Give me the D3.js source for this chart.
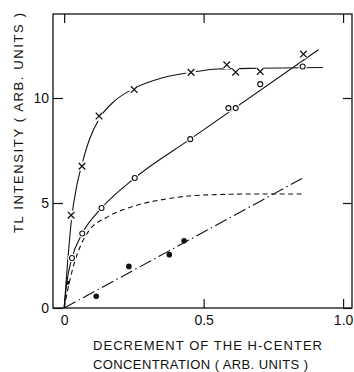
<!DOCTYPE html>
<html>
<head>
<meta charset="utf-8">
<script src="https://cdn.jsdelivr.net/npm/d3@7"></script>
<style>
  html, body { margin: 0; padding: 0; background: #fff; }
  svg { display: block; }
  text { font-family: "Liberation Sans", Arial, sans-serif; fill: #111; }
</style>
</head>
<body>
<svg id="chart" width="354" height="372"></svg>
<script>
// Measured points (decrement of H-center concentration vs. TL intensity)
const crossX = [0.025, 0.064, 0.125, 0.251, 0.455, 0.583, 0.615, 0.703, 0.858];
const crossY = [4.42, 6.75, 9.14, 10.40, 11.22, 11.58, 11.23, 11.26, 12.09];

const circleX = [0.028, 0.065, 0.134, 0.253, 0.452, 0.589, 0.615, 0.703, 0.855];
const circleY = [2.38, 3.55, 4.76, 6.19, 8.04, 9.52, 9.52, 10.66, 11.50];

const dotX = [0.013, 0.115, 0.232, 0.377, 0.430];
const dotY = [1.20, 0.56, 1.98, 2.54, 3.20];

// Drawn guide curves
const crossCurveX = [0, 0.012, 0.027, 0.045, 0.064, 0.09, 0.125, 0.18, 0.25, 0.35, 0.455, 0.55, 0.70, 0.928];
const crossCurveY = [0, 2.1, 4.3, 5.8, 6.85, 8.0, 9.0, 9.85, 10.45, 10.95, 11.22, 11.38, 11.42, 11.45];

const circleCurveX = [0, 0.010, 0.028, 0.065, 0.134, 0.253, 0.452, 0.912];
const circleCurveY = [0, 1.25, 2.38, 3.55, 4.76, 6.19, 8.04, 12.30];

const dashedCurveX = [0, 0.02, 0.04, 0.06, 0.09, 0.15, 0.25, 0.37, 0.50, 0.70, 0.858];
const dashedCurveY = [0, 1.3, 2.3, 3.0, 3.7, 4.3, 4.85, 5.2, 5.38, 5.43, 5.43];

const dashDotX = [0, 0.853];
const dashDotY = [0, 6.17];

const xTicks = [0, 0.5, 1.0];
const xTickLabels = ["0", "0.5", "1.0"];
const yTicks = [0, 5, 10];
const yTickLabels = ["0", "5", "10"];

const xTitle1 = "DECREMENT  OF  THE H-CENTER";
const xTitle2 = "CONCENTRATION  ( ARB. UNITS )";
const yTitle = "TL  INTENSITY  ( ARB. UNITS )";

const zip = (xs, ys) => xs.map((v, i) => [v, ys[i]]);

const svg = d3.select("#chart");
const x = d3.scaleLinear().domain([-0.04, 1.032]).range([53, 352]);
const y = d3.scaleLinear().domain([0, 14]).range([308, 14]);
const [xL, xR] = x.range();
const [yB, yT] = y.range();

// Axes: ticks point inward on all four sides
const fmtX = d => xTickLabels[xTicks.indexOf(d)];
const fmtY = d => yTickLabels[yTicks.indexOf(d)];

function styleAxis(g) {
  g.select(".domain").remove();
  g.selectAll(".tick line").attr("stroke", "#111").attr("stroke-width", 1.2);
  g.selectAll("text").style("font-size", "14px").attr("fill", "#111");
}

svg.append("g").attr("transform", `translate(0,${yB})`)
  .call(d3.axisBottom(x).tickValues(xTicks).tickFormat(fmtX).tickSizeInner(-9).tickSizeOuter(0).tickPadding(7))
  .call(styleAxis);
svg.append("g").attr("transform", `translate(0,${yT})`)
  .call(d3.axisTop(x).tickValues(xTicks).tickFormat("").tickSizeInner(-9).tickSizeOuter(0))
  .call(styleAxis);
svg.append("g").attr("transform", `translate(${xL},0)`)
  .call(d3.axisLeft(y).tickValues(yTicks).tickFormat(fmtY).tickSizeInner(-10).tickSizeOuter(0).tickPadding(4))
  .call(styleAxis);
svg.append("g").attr("transform", `translate(${xR},0)`)
  .call(d3.axisRight(y).tickValues(yTicks).tickFormat("").tickSizeInner(-9).tickSizeOuter(0))
  .call(styleAxis);

// Frame
svg.append("rect")
  .attr("x", xL).attr("y", yT).attr("width", xR - xL).attr("height", yB - yT)
  .attr("fill", "none").attr("stroke", "#111").attr("stroke-width", 1.3);

// Curves
const line = d3.line().x(d => x(d[0])).y(d => y(d[1])).curve(d3.curveMonotoneX);
const straight = d3.line().x(d => x(d[0])).y(d => y(d[1]));

const curves = svg.append("g").attr("fill", "none").attr("stroke", "#111");
curves.append("path").attr("d", line(zip(crossCurveX, crossCurveY))).attr("stroke-width", 1.1);
curves.append("path").attr("d", line(zip(circleCurveX, circleCurveY))).attr("stroke-width", 1.1);
curves.append("path").attr("d", line(zip(dashedCurveX, dashedCurveY)))
  .attr("stroke-width", 1.1).attr("stroke-dasharray", "5,3.5");
curves.append("path").attr("d", straight(zip(dashDotX, dashDotY)))
  .attr("stroke-width", 1.1).attr("stroke-dasharray", "13,3.5,1.5,3.5");

// White halos leave small gaps in the lines around the markers
const halos = svg.append("g").attr("fill", "#fff");
halos.selectAll(".hx").data(zip(crossX, crossY)).join("circle")
  .attr("cx", d => x(d[0])).attr("cy", d => y(d[1])).attr("r", 5);
halos.selectAll(".ho").data(zip(circleX, circleY)).join("circle")
  .attr("cx", d => x(d[0])).attr("cy", d => y(d[1])).attr("r", 4.2);

// Crosses
const cs = 3.3;
svg.append("g").attr("stroke", "#111").attr("stroke-width", 1.3)
  .selectAll("path").data(zip(crossX, crossY)).join("path")
  .attr("d", d => {
    const cx = x(d[0]), cy = y(d[1]);
    return `M${cx - cs},${cy - cs}L${cx + cs},${cy + cs}M${cx - cs},${cy + cs}L${cx + cs},${cy - cs}`;
  });

// Open circles
svg.append("g").attr("fill", "#fff").attr("stroke", "#111").attr("stroke-width", 1.1)
  .selectAll("circle").data(zip(circleX, circleY)).join("circle")
  .attr("cx", d => x(d[0])).attr("cy", d => y(d[1])).attr("r", 2.5);

// Filled dots
svg.append("g").attr("fill", "#111")
  .selectAll("circle").data(zip(dotX, dotY)).join("circle")
  .attr("cx", d => x(d[0])).attr("cy", d => y(d[1])).attr("r", (d, i) => i === 0 ? 2.1 : 2.8);

// Axis titles
svg.append("text").attr("x", 93).attr("y", 349.5)
  .attr("textLength", 229).attr("lengthAdjust", "spacing")
  .style("font-size", "13px").text(xTitle1);
svg.append("text").attr("x", 93).attr("y", 368.5)
  .attr("textLength", 215).attr("lengthAdjust", "spacing")
  .style("font-size", "13px").text(xTitle2);
svg.append("text").attr("transform", "translate(22.8,233) rotate(-90)")
  .attr("textLength", 220).attr("lengthAdjust", "spacing")
  .style("font-size", "13px").text(yTitle);
</script>
</body>
</html>
